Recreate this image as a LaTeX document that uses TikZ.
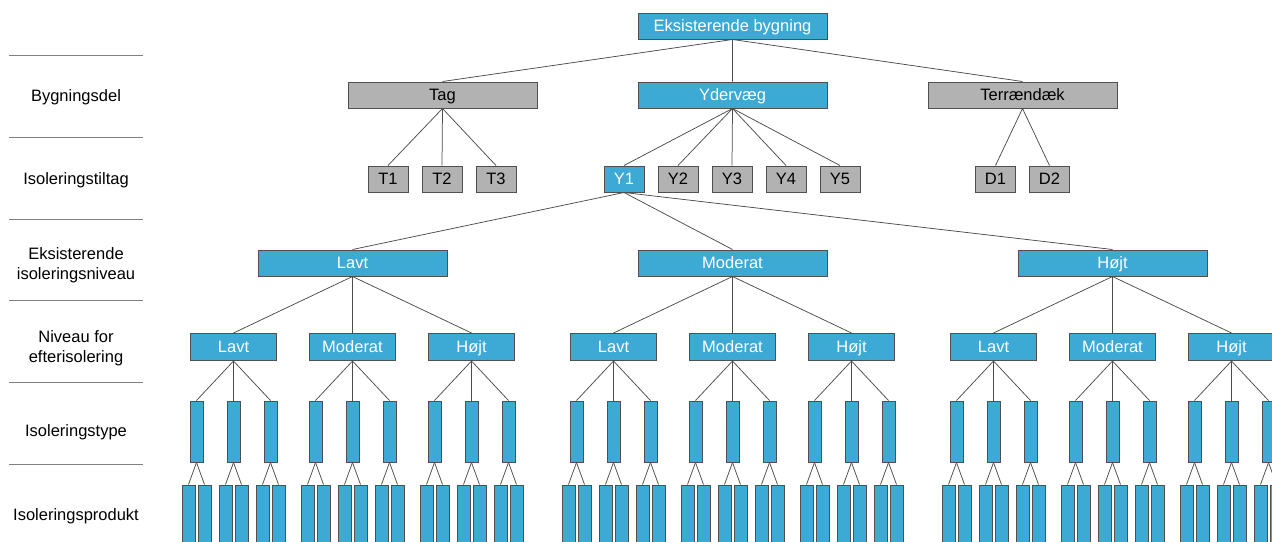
\documentclass[tikz,border=0pt]{standalone}
\usepackage{fontspec}
\setmainfont{Liberation Sans}
\usetikzlibrary{positioning}
\definecolor{boxblue}{RGB}{60,170,212}
\definecolor{boxgrey}{RGB}{178,178,178}
\definecolor{rimgrey}{RGB}{80,80,80}
\tikzset{
  txt/.style={font=\fontsize{16.5}{20.5}\selectfont},
  bbox/.style={draw=rimgrey,line width=1pt,fill=boxblue,text=white,
    inner sep=0pt,text height=12pt,text depth=0.2pt,txt},
  gbox/.style={draw=rimgrey,line width=1pt,fill=boxgrey,text=black,
    inner sep=0pt,text height=12pt,text depth=0.2pt,txt},
  bigbox/.style={minimum width=189pt,minimum height=26pt},
  midbox/.style={minimum width=86pt,minimum height=27pt},
  tinybox/.style={minimum width=40pt,minimum height=26pt},
  typebox/.style={bbox,minimum width=13pt,minimum height=61pt},
  prodbox/.style={bbox,minimum width=13pt,minimum height=70pt},
  tedge/.style={line width=0.75pt,black!70},
  hrule/.style={line width=1pt,black!50},
  lvllbl/.style={txt,align=center,inner sep=0pt},
}
\begin{document}
\begin{tikzpicture}[x=1pt,y=-1pt]
  \useasboundingbox (0,0) rectangle (1272,541);
  \clip (0,0) rectangle (1272,541);
  % level rules and labels
  \foreach \ry in {55,137,219,300,382,464}
    \draw[hrule] (9,\ry) -- (143,\ry);
  \node[lvllbl] (lb1) at (76,97) {Bygningsdel};
  \node[lvllbl] (lb2) at (76,180) {Isoleringstiltag};
  \node[lvllbl] (lb3) at (76,265) {Eksisterende\\isoleringsniveau};
  \node[lvllbl] (lb4) at (76,348) {Niveau for\\efterisolering};
  \node[lvllbl] (lb5) at (76,432) {Isoleringstype};
  \node[lvllbl] (lb6) at (76,516) {Isoleringsprodukt};
  % building and building parts
  \node[bbox,bigbox] (eb) at (732.5,26) {Eksisterende bygning};
  \node[gbox,bigbox] (tag) at (442.5,95) {Tag};
  \node[bbox,bigbox] (ydv) at (732.5,95) {Ydervæg};
  \node[gbox,bigbox] (ter) at (1022.5,95) {Terrændæk};
  \draw[tedge] (eb.south)--(tag.north) (eb.south)--(ydv.north) (eb.south)--(ter.north);
  % measures
  \foreach \i in {1,2,3} {
    \node[gbox,tinybox] (t\i) at (388+54*\i-54,179) {T\i};
    \draw[tedge] (tag.south) -- (t\i.north);
  }
  \node[bbox,tinybox] (y1) at (624,179) {Y1};
  \draw[tedge] (ydv.south) -- (y1.north);
  \foreach \i in {2,...,5} {
    \node[gbox,tinybox] (y\i) at (570+54*\i,179) {Y\i};
    \draw[tedge] (ydv.south) -- (y\i.north);
  }
  \node[gbox,tinybox] (d1) at (995.5,179) {D1};
  \node[gbox,tinybox] (d2) at (1049.5,179) {D2};
  \draw[tedge] (ter.south)--(d1.north) (ter.south)--(d2.north);
  % levels, types and products under Y1
  \foreach \g/\gx/\gn in {1/352.5/Lavt,2/732.5/Moderat,3/1112.5/Højt} {
    \node[bbox,bigbox] (ex\g) at (\gx,263) {\gn};
    \draw[tedge] (y1.south) -- (ex\g.north);
    \foreach \e/\en in {1/Lavt,2/Moderat,3/Højt} {
      \pgfmathsetmacro\efx{\gx+(\e-2)*119}
      \node[bbox,midbox] (ef\g\e) at (\efx,347) {\en};
      \draw[tedge] (ex\g.south) -- (ef\g\e.north);
      \foreach \t in {1,2,3} {
        \pgfmathsetmacro\tyx{\efx+(\t-2)*37}
        \node[typebox] (ty\g\e\t) at (\tyx,431.5) {};
        \draw[tedge] (ef\g\e.south) -- (ty\g\e\t.north);
        \foreach \p in {1,2} {
          \node[prodbox] (pr\g\e\t\p) at (\tyx+16*\p-24,520) {};
          \draw[tedge] (ty\g\e\t.south) -- (pr\g\e\t\p.north);
        }
      }
    }
  }
\end{tikzpicture}
\end{document}
